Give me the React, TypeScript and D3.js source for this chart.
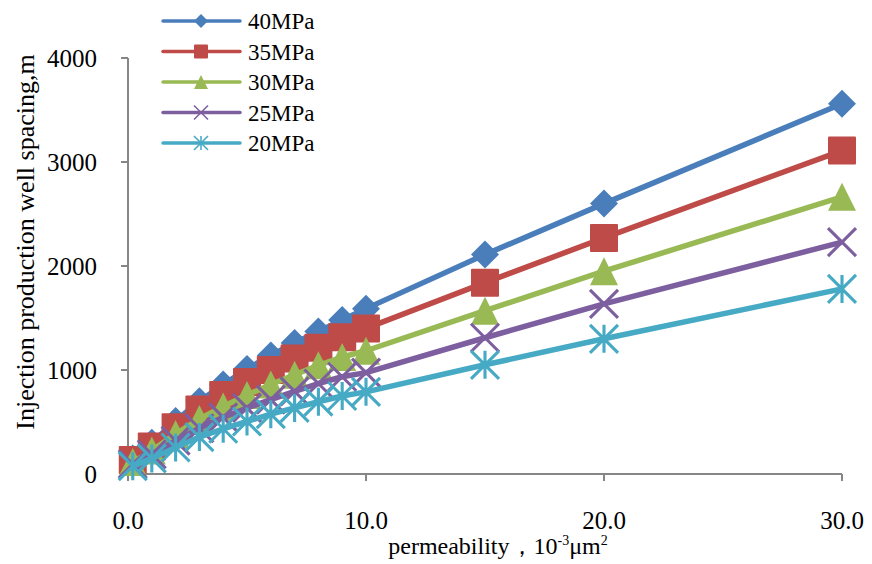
import React from "react";
import * as d3 from "d3";

const permeability = [0.2, 1, 2, 3, 4, 5, 6, 7, 8, 9, 10, 15, 20, 30];
const p40 = [150, 300, 510, 700, 860, 1010, 1140, 1260, 1370, 1480, 1590, 2110, 2600, 3560];
const p35 = [135, 265, 450, 620, 760, 885, 1000, 1110, 1215, 1315, 1400, 1840, 2270, 3110];
const p30 = [115, 225, 385, 530, 650, 760, 860, 955, 1045, 1125, 1185, 1570, 1950, 2665];
const p25 = [95, 190, 320, 440, 545, 635, 715, 795, 870, 935, 975, 1310, 1635, 2230];
const p20 = [75, 150, 255, 355, 435, 505, 575, 635, 695, 750, 790, 1050, 1300, 1780];
const seriesNames = ["40MPa", "35MPa", "30MPa", "25MPa", "20MPa"];
const xTicks = [0, 10, 20, 30];
const yTicks = [0, 1000, 2000, 3000, 4000];

const seriesValues = [p40, p35, p30, p25, p20];
const colors = ["#4A7EBB", "#BE4B48", "#98B954", "#7D5FA0", "#46AAC5"];
const markerKinds = ["diamond", "square", "triangle", "x", "asterisk"];

const FONT = "'Liberation Serif', 'Times New Roman', serif";

function Marker({ kind, x, y, s, color }: { kind: string; x: number; y: number; s: number; color: string }) {
  const r = s / 2;
  if (kind === "diamond") {
    return <path d={`M${x},${y - r}L${x + r},${y}L${x},${y + r}L${x - r},${y}Z`} fill={color} />;
  }
  if (kind === "square") {
    return <rect x={x - r} y={y - r} width={s} height={s} fill={color} rx={1} />;
  }
  if (kind === "triangle") {
    return <path d={`M${x},${y - r}L${x + r},${y + r}L${x - r},${y + r}Z`} fill={color} />;
  }
  if (kind === "x") {
    return (
      <path
        d={`M${x - r},${y - r}L${x + r},${y + r}M${x - r},${y + r}L${x + r},${y - r}`}
        stroke={color}
        strokeWidth={s / 9}
        fill="none"
      />
    );
  }
  return (
    <path
      d={`M${x - r},${y - r}L${x + r},${y + r}M${x - r},${y + r}L${x + r},${y - r}M${x},${y - r}L${x},${y + r}`}
      stroke={color}
      strokeWidth={s / 9}
      fill="none"
    />
  );
}

export default function App() {
  const width = 872;
  const height = 564;
  const x = d3.scaleLinear().domain([0, 30]).range([128, 842]);
  const y = d3.scaleLinear().domain([0, 4000]).range([474, 58]);
  const line = d3
    .line<[number, number]>()
    .x((d) => x(d[0]))
    .y((d) => y(d[1]));
  const axisColor = "#868686";

  return (
    <svg width={width} height={height} style={{ display: "block", position: "absolute", left: 0, top: 0 }} fontFamily={FONT}>
      <rect width={width} height={height} fill="#fff" />
      {/* axes */}
      <line x1={x(0)} x2={x(0)} y1={y(4000)} y2={y(0)} stroke={axisColor} strokeWidth={2} />
      <line x1={x(0) - 7} x2={x(30)} y1={y(0)} y2={y(0)} stroke={axisColor} strokeWidth={2} />
      {yTicks.map((t) => (
        <g key={"y" + t}>
          <line x1={x(0) - 7} x2={x(0)} y1={y(t)} y2={y(t)} stroke={axisColor} strokeWidth={2} />
          <text x={97} y={y(t)} dy="0.35em" textAnchor="end" fontSize={25} fill="#000">
            {t}
          </text>
        </g>
      ))}
      {xTicks.map((t) => (
        <g key={"x" + t}>
          <line x1={x(t)} x2={x(t)} y1={y(0)} y2={y(0) + 7} stroke={axisColor} strokeWidth={2} />
          <text x={x(t)} y={529} textAnchor="middle" fontSize={25} fill="#000">
            {t.toFixed(1)}
          </text>
        </g>
      ))}
      {/* series */}
      {seriesValues.map((vals, i) => {
        const pts = permeability.map((p, j) => [p, vals[j]] as [number, number]);
        return (
          <g key={seriesNames[i]}>
            <path d={line(pts) || ""} fill="none" stroke={colors[i]} strokeWidth={5.5} strokeLinejoin="round" />
            {pts.map((d, j) => (
              <Marker key={j} kind={markerKinds[i]} x={x(d[0])} y={y(d[1])} s={28} color={colors[i]} />
            ))}
          </g>
        );
      })}
      {/* legend */}
      {seriesNames.map((n, i) => {
        const cy = 21 + i * 30.5;
        return (
          <g key={"leg" + n}>
            <line x1={163} x2={240} y1={cy} y2={cy} stroke={colors[i]} strokeWidth={3.5} strokeLinecap="round" />
            <Marker kind={markerKinds[i]} x={201} y={cy} s={14} color={colors[i]} />
            <text x={248} y={cy} dy="0.35em" fontSize={23} fill="#000">
              {n}
            </text>
          </g>
        );
      })}
      {/* axis titles */}
      <text transform="translate(34,242) rotate(-90)" textAnchor="middle" fontSize={26} fill="#000">
        Injection production well spacing,m
      </text>
      <text x={498} y={554} textAnchor="middle" fontSize={24} fill="#000">
        permeability，10
        <tspan fontSize={14} dy={-9}>-3</tspan>
        <tspan dy={9}>μm</tspan>
        <tspan fontSize={14} dy={-9}>2</tspan>
      </text>
    </svg>
  );
}
